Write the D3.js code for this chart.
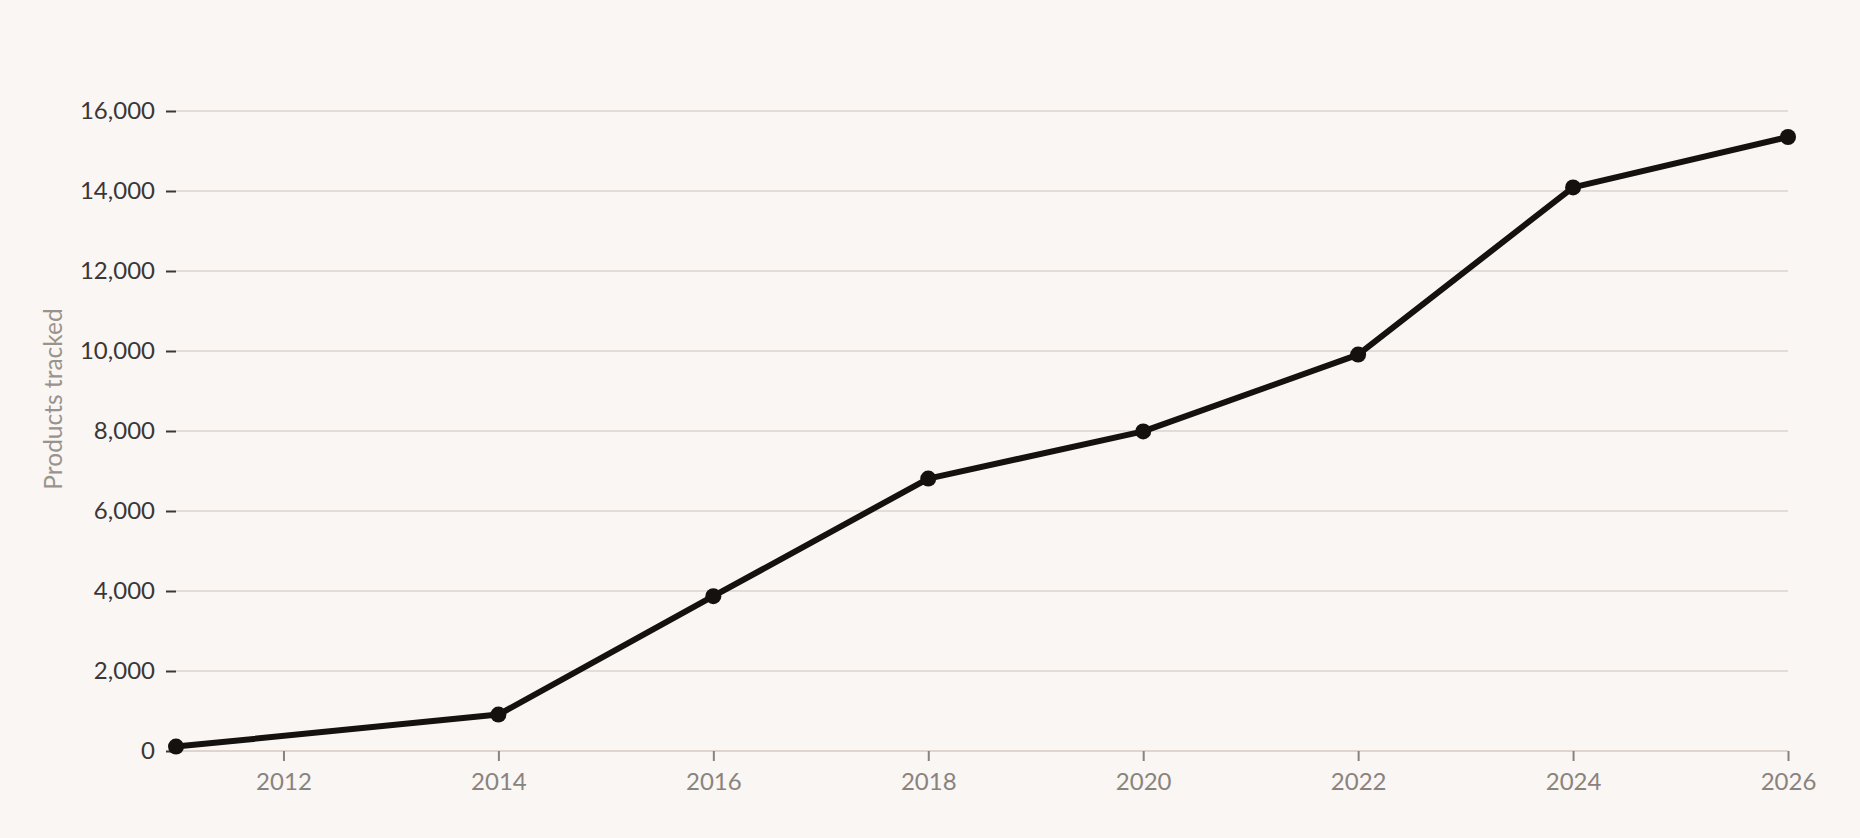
<!DOCTYPE html>
<html>
<head>
<meta charset="utf-8">
<script src="https://cdn.jsdelivr.net/npm/d3@7"></script>
<style>
  html, body { margin: 0; padding: 0; background: #f9f6f3; }
  svg { display: block; font-family: Lato, "Open Sans", sans-serif; }
</style>
</head>
<body>
<svg id="chart"></svg>
<script>
/* Data */
const years = [2011, 2014, 2016, 2018, 2020, 2022, 2024, 2026];
const products = [110, 910, 3870, 6810, 7990, 9910, 14090, 15350];
const yTicks = [0, 2000, 4000, 6000, 8000, 10000, 12000, 14000, 16000];
const xTicks = [2012, 2014, 2016, 2018, 2020, 2022, 2024, 2026];

/* SVG frame's settings */
const width = 1860;
const height = 838;
const margin = { top: 111, right: 72, bottom: 87, left: 176 };
const fontStack = 'Lato, "Open Sans", sans-serif';

const svg = d3.select('#chart')
  .attr('width', width)
  .attr('height', height);

const x = d3.scaleLinear()
  .domain([2011, 2026])
  .range([margin.left, width - margin.right]);

const y = d3.scaleLinear()
  .domain([0, 16000])
  .range([height - margin.bottom, margin.top]);

/* Horizontal grid */
svg.append('g')
  .selectAll('line')
  .data(yTicks)
  .join('line')
  .attr('x1', margin.left)
  .attr('x2', width - margin.right)
  .attr('y1', d => y(d))
  .attr('y2', d => y(d))
  .attr('stroke', '#ddd5ce')
  .attr('stroke-width', 1.5);

/* Y axis, no domain line */
const yAxis = svg.append('g')
  .attr('transform', `translate(${margin.left},0)`)
  .call(d3.axisLeft(y).tickValues(yTicks).tickSize(10).tickPadding(11)
    .tickFormat(d3.format(',')))
  .attr('font-family', fontStack)
  .attr('font-size', 24);
yAxis.select('.domain').remove();
yAxis.selectAll('line').attr('stroke', '#3b3734').attr('stroke-width', 2);
yAxis.selectAll('text').attr('fill', '#3b3734');

/* X axis */
const xAxis = svg.append('g')
  .attr('transform', `translate(0,${y(0)})`)
  .call(d3.axisBottom(x).tickValues(xTicks).tickSize(10).tickPadding(12)
    .tickFormat(d3.format('d')))
  .attr('font-family', fontStack)
  .attr('font-size', 24);
xAxis.select('.domain')
  .attr('stroke', '#ddd5ce')
  .attr('stroke-width', 2)
  .attr('d', `M${margin.left},0H${width - margin.right}`);
xAxis.selectAll('line').attr('stroke', '#8a837d').attr('stroke-width', 2);
xAxis.selectAll('text').attr('fill', '#8a837d');

/* Axis title */
svg.append('text')
  .attr('transform', 'translate(53,399) rotate(-90)')
  .attr('text-anchor', 'middle')
  .attr('dy', '0.35em')
  .attr('fill', '#9a938d')
  .style('font-size', '24.5px')
  .text('Products tracked');

/* Line and points */
const points = years.map((yr, i) => ({ year: yr, value: products[i] }));

svg.append('path')
  .datum(points)
  .attr('fill', 'none')
  .attr('stroke', '#14110e')
  .attr('stroke-width', 6)
  .attr('stroke-linejoin', 'round')
  .attr('d', d3.line().x(d => x(d.year)).y(d => y(d.value)));

svg.append('g')
  .selectAll('circle')
  .data(points)
  .join('circle')
  .attr('cx', d => x(d.year))
  .attr('cy', d => y(d.value))
  .attr('r', 8)
  .attr('fill', '#14110e');
</script>
</body>
</html>
